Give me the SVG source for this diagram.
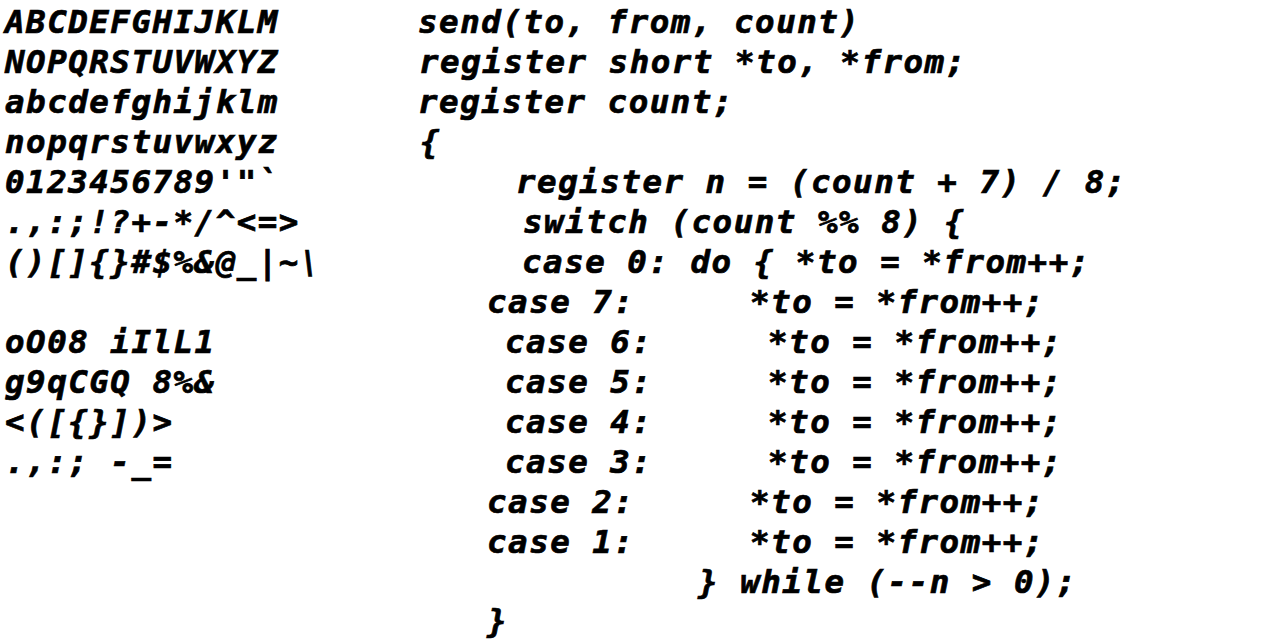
<svg xmlns="http://www.w3.org/2000/svg" width="1280" height="640" viewBox="0 0 1280 640">
<style>
text{font-family:"DejaVu Sans Mono","Liberation Mono",monospace;font-weight:bold;font-style:italic;font-size:32.5px;letter-spacing:1.5px;fill:#000;stroke:#000;stroke-width:0.7px;white-space:pre}
</style>
<rect width="1280" height="640" fill="#fff"/>
<g id="specimen">
<text x="5" y="33">ABCDEFGHIJKLM</text>
<text x="5" y="73">NOPQRSTUVWXYZ</text>
<text x="5" y="113">abcdefghijklm</text>
<text x="5" y="153">nopqrstuvwxyz</text>
<text x="5" y="193">0123456789'"`</text>
<text x="5" y="233">.,:;!?+-*/^&lt;=&gt;</text>
<text x="5" y="273">()[]{}#$%&amp;@_|~\</text>
<text x="5" y="353">oO08 iIlL1</text>
<text x="5" y="393">g9qCGQ 8%&amp;</text>
<text x="5" y="433">&lt;([{}])&gt;</text>
<text x="5" y="473">.,:; -_=</text>
</g>
<g id="code">
<text x="418" y="33">send(to, from, count)</text>
<text x="419" y="73">register short *to, *from;</text>
<text x="418" y="113">register count;</text>
<text x="420" y="153">{</text>
<text x="516" y="193">register n = (count + 7) / 8;</text>
<text x="523" y="233">switch (count %% 8) {</text>
<text x="522" y="273">case 0: do { *to = *from++;</text>
<text x="487" y="313">case 7:</text><text x="750" y="313">*to = *from++;</text>
<text x="505" y="353">case 6:</text><text x="768" y="353">*to = *from++;</text>
<text x="505" y="393">case 5:</text><text x="768" y="393">*to = *from++;</text>
<text x="505" y="433">case 4:</text><text x="768" y="433">*to = *from++;</text>
<text x="505" y="473">case 3:</text><text x="768" y="473">*to = *from++;</text>
<text x="487" y="513">case 2:</text><text x="750" y="513">*to = *from++;</text>
<text x="487" y="553">case 1:</text><text x="750" y="553">*to = *from++;</text>
<text x="698" y="593">} while (--n &gt; 0);</text>
<text x="487" y="632">}</text>
</g>
</svg>
